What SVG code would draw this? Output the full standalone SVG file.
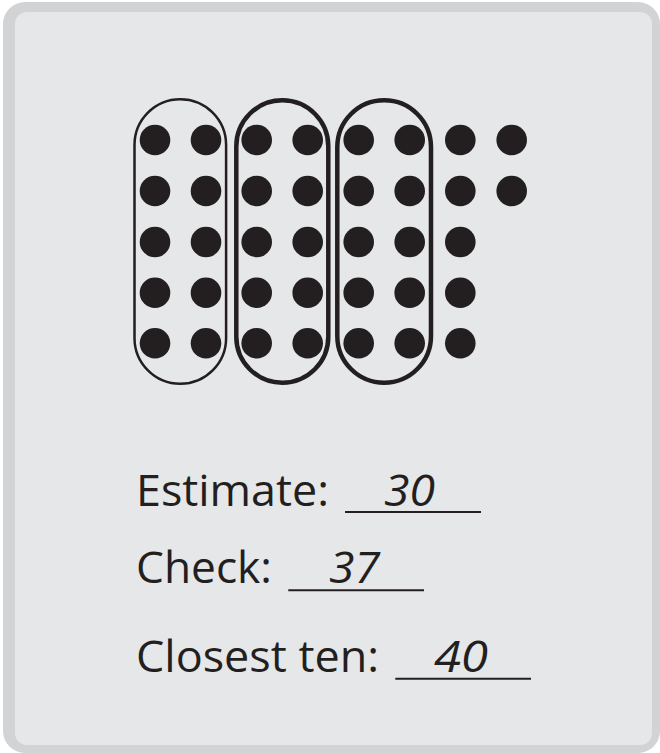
<svg xmlns="http://www.w3.org/2000/svg" width="660" height="753" viewBox="0 0 660 753">
<style>
.dot{fill:#231f20}
.oval{fill:none;stroke:#231f20}
.lbl{font-family:"Open Sans","Liberation Sans",sans-serif;font-size:44px;fill:#231f20}
.num{font-family:"Open Sans","Liberation Sans",sans-serif;font-size:44px;font-style:italic;fill:#231f20}
.ul{stroke:#231f20;stroke-width:2}
</style>
<rect x="3" y="2" width="657" height="751" rx="22" fill="#d1d3d4"/>
<rect x="15" y="12" width="637" height="733" rx="12" fill="#e6e7e8"/>
<defs>
<g id="col">
<circle cx="0" cy="140" r="15.3"/>
<circle cx="0" cy="191" r="15.3"/>
<circle cx="0" cy="242" r="15.3"/>
<circle cx="0" cy="292.7" r="15.3"/>
<circle cx="0" cy="343.3" r="15.3"/>
</g>
</defs>
<g id="dots" class="dot">
<use href="#col" x="155"/>
<use href="#col" x="206"/>
<use href="#col" x="256.7"/>
<use href="#col" x="307.7"/>
<use href="#col" x="358.7"/>
<use href="#col" x="409.7"/>
<use href="#col" x="460.3"/>
<circle cx="511.7" cy="140" r="15.3"/>
<circle cx="511.7" cy="191" r="15.3"/>
</g>
<g id="ovals">
<rect class="oval" x="134.5" y="99.2" width="91.6" height="284.6" rx="45.8" stroke-width="2.5"/>
<rect class="oval" x="236.3" y="100.3" width="92" height="282.4" rx="46" stroke-width="4.5"/>
<rect class="oval" x="337.3" y="100.3" width="93.7" height="282.4" rx="46.8" stroke-width="4.5"/>
</g>
<g id="estimate">
<text class="lbl" x="136" y="506" textLength="193" lengthAdjust="spacingAndGlyphs">Estimate:</text>
<line class="ul" x1="345" y1="512" x2="481" y2="512"/>
<text class="num" x="384" y="506" textLength="51" lengthAdjust="spacingAndGlyphs">30</text>
</g>
<g id="check">
<text class="lbl" x="136" y="583.3" textLength="136" lengthAdjust="spacingAndGlyphs">Check:</text>
<line class="ul" x1="288.3" y1="590.3" x2="424" y2="590.3"/>
<text class="num" x="329" y="583.3" textLength="51" lengthAdjust="spacingAndGlyphs">37</text>
</g>
<g id="closest">
<text class="lbl" x="136" y="671.7" textLength="243" lengthAdjust="spacingAndGlyphs">Closest ten:</text>
<line class="ul" x1="395.3" y1="678.7" x2="531" y2="678.7"/>
<text class="num" x="434" y="671.7" textLength="54" lengthAdjust="spacingAndGlyphs">40</text>
</g>
</svg>
